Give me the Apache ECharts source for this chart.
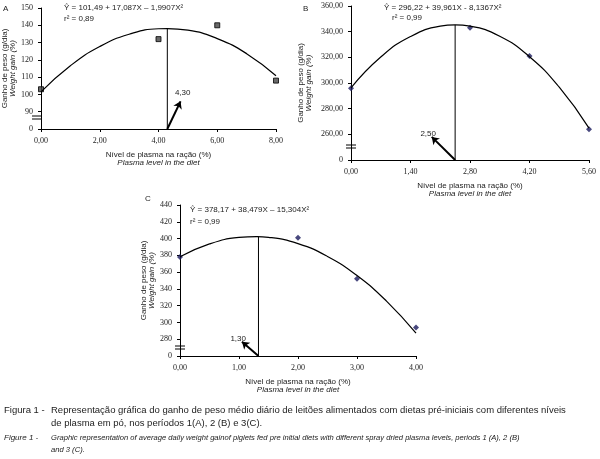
<!DOCTYPE html>
<html lang="pt">
<head>
<meta charset="UTF-8">
<title>Ganho de peso</title>
<style>
  html, body { margin: 0; background: #fff; }
  #chart { width: 600px; height: 459px; }
</style>
</head>
<body>
<div id="chart"></div>
<script src="https://cdn.jsdelivr.net/npm/echarts@6/dist/echarts.min.js"></script>
<script>
// observed points
const ptsA = [[0, 103], [4, 132], [6, 140], [8, 108]]
const ptsB = [[0, 296], [2.8, 343], [4.2, 321], [5.6, 264]]
const ptsC = [[0, 378], [2, 401], [3, 352], [4, 294]]

// fitted curves
const curveA = [[0, 101.5], [1, 116.6], [2, 127.7], [3, 134.8], [4, 138.0], [4.3, 138.1], [5, 137.2], [6, 132.3], [7, 123.6], [8, 110.8]]
const curveB = [[0, 296.2], [0.7, 320.2], [1.4, 336.2], [2.1, 344.3], [2.45, 345.3], [2.8, 344.3], [3.5, 336.4], [4.2, 320.5], [4.9, 296.7], [5.6, 264.8]]
const curveC = [[0, 378.2], [0.5, 393.6], [1, 401.3], [1.3, 402.4], [1.5, 401.5], [2, 393.9], [2.5, 378.7], [3, 355.9], [3.5, 325.4], [4, 287.2]]

// optimum levels
const optA = [4.3, 138.1]
const optB = [2.45, 345.3]
const optC = [1.33, 402.4]

const serif = 'Liberation Serif'
const sans = 'Liberation Sans'

function fmtComma(v) { return v.toFixed(2).replace('.', ',') }

function xAxis(grid, max, interval) {
  return {
    type: 'value', gridIndex: grid, min: 0, max: max, interval: interval,
    axisLine: { lineStyle: { color: '#000' } },
    axisTick: { lineStyle: { color: '#000' }, length: 3 },
    axisLabel: { color: '#222', fontFamily: serif, fontSize: 8, formatter: fmtComma },
    splitLine: { show: false },
    name: '{a|Nível de plasma na ração (%)}\n{b|Plasma level in the diet}',
    nameLocation: 'middle', nameGap: 22,
    nameTextStyle: { rich: {
      a: { fontFamily: sans, fontSize: 8, color: '#222' },
      b: { fontFamily: sans, fontSize: 8, fontStyle: 'italic', color: '#222' }
    } }
  }
}

function yAxis(grid, min, max, interval, decimals) {
  return {
    type: 'value', gridIndex: grid, min: min, max: max, interval: interval,
    axisLine: { show: true, lineStyle: { color: '#000' } },
    axisTick: { show: true, lineStyle: { color: '#000' }, length: 3 },
    axisLabel: { color: '#222', fontFamily: serif, fontSize: 8,
      formatter: v => v === min ? '0' : (decimals ? fmtComma(v) : String(v)) },
    splitLine: { show: false },
    name: '{a|Ganho de peso (g/dia)}\n{b|Weight gain (%)}',
    nameLocation: 'middle', nameRotate: 90, nameGap: decimals ? 38 : 24,
    nameTextStyle: { rich: {
      a: { fontFamily: sans, fontSize: 8, color: '#222' },
      b: { fontFamily: sans, fontSize: 8, fontStyle: 'italic', color: '#222' }
    } }
  }
}

function panel(i, pts, curve, opt, base, arrowFrom, arrowTo, label, symbol, color) {
  return [
    { type: 'line', xAxisIndex: i, yAxisIndex: i, data: curve, smooth: 0.5, showSymbol: false,
      lineStyle: { color: '#000', width: 1.2 }, silent: true,
      markLine: { silent: true, symbol: ['none', 'arrow'], symbolSize: 7,
        label: { show: true, formatter: label, position: 'end', fontFamily: sans, fontSize: 8, color: '#222' },
        lineStyle: { color: '#000', width: 2, type: 'solid' },
        data: [[{ coord: arrowFrom }, { coord: arrowTo }]] } },
    { type: 'line', xAxisIndex: i, yAxisIndex: i, data: [[opt[0], base], opt], showSymbol: false,
      lineStyle: { color: '#000', width: 1 }, silent: true },
    { type: 'scatter', xAxisIndex: i, yAxisIndex: i, data: pts, symbol: symbol, symbolSize: symbol === 'rect' ? 5 : 6,
      itemStyle: { color: color, borderColor: '#000', borderWidth: symbol === 'rect' ? 1 : 0 } }
  ]
}

function txt(left, top, text, size, italic) {
  return { type: 'text', left: left, top: top,
    style: { text: text, fontFamily: sans, fontSize: size || 8, fontStyle: italic ? 'italic' : 'normal', fill: '#222' } }
}
function brk(x, y) {
  return [
    { type: 'line', shape: { x1: x - 5, y1: y, x2: x + 5, y2: y }, style: { stroke: '#000', lineWidth: 1 } },
    { type: 'line', shape: { x1: x - 5, y1: y + 3, x2: x + 5, y2: y + 3 }, style: { stroke: '#000', lineWidth: 1 } }
  ]
}

const chart = echarts.init(document.getElementById('chart'))
chart.setOption({
  animation: false,
  grid: [
    { left: 37, top: 8, width: 239, height: 121 },
    { left: 351, top: 6, width: 238, height: 154 },
    { left: 180, top: 205, width: 236, height: 151 }
  ],
  xAxis: [xAxis(0, 8, 2), xAxis(1, 5.6, 1.4), xAxis(2, 4, 1)],
  yAxis: [yAxis(0, 80, 150, 10, false), yAxis(1, 240, 360, 20, true), yAxis(2, 260, 440, 20, false)],
  series: [
    ...panel(0, ptsA, curveA, optA, 80, [4.3, 80], [4.75, 96], '4,30', 'rect', '#444'),
    ...panel(1, ptsB, curveB, optB, 240, [2.45, 240], [1.9, 258], '2,50', 'diamond', '#1a1a5e'),
    ...panel(2, ptsC, curveC, optC, 260, [1.33, 260], [1.05, 277], '1,30', 'diamond', '#1a1a5e')
  ],
  graphic: [
    txt(3, 5, 'A'), txt(303, 5, 'B'), txt(145, 195, 'C'),
    txt(64, 4, 'Ŷ = 101,49 + 17,087X – 1,9907X²'), txt(64, 15, 'r² = 0,89'),
    txt(384, 4, 'Ŷ = 296,22 + 39,961X - 8,1367X²'), txt(392, 14, 'r² = 0,99'),
    txt(190, 206, 'Ŷ = 378,17 + 38,479X – 15,304X²'), txt(190, 218, 'r² = 0,99'),
    ...brk(37, 116), ...brk(351, 145), ...brk(180, 346),
    txt(4, 405, 'Figura 1 -', 9.5),
    txt(51, 405, 'Representação gráfica do ganho de peso médio diário de leitões alimentados com dietas pré-iniciais com diferentes níveis', 9.5),
    txt(51, 418, 'de plasma em pó, nos períodos 1(A), 2 (B) e 3(C).', 9.5),
    txt(4, 434, 'Figure 1 -', 8, true),
    txt(51, 434, 'Graphic representation of average daily weight gainof piglets fed pre initial diets with different spray dried plasma levels, periods 1 (A), 2 (B)', 7.6, true),
    txt(51, 446, 'and 3 (C).', 7.6, true)
  ]
})
</script>
</body>
</html>
